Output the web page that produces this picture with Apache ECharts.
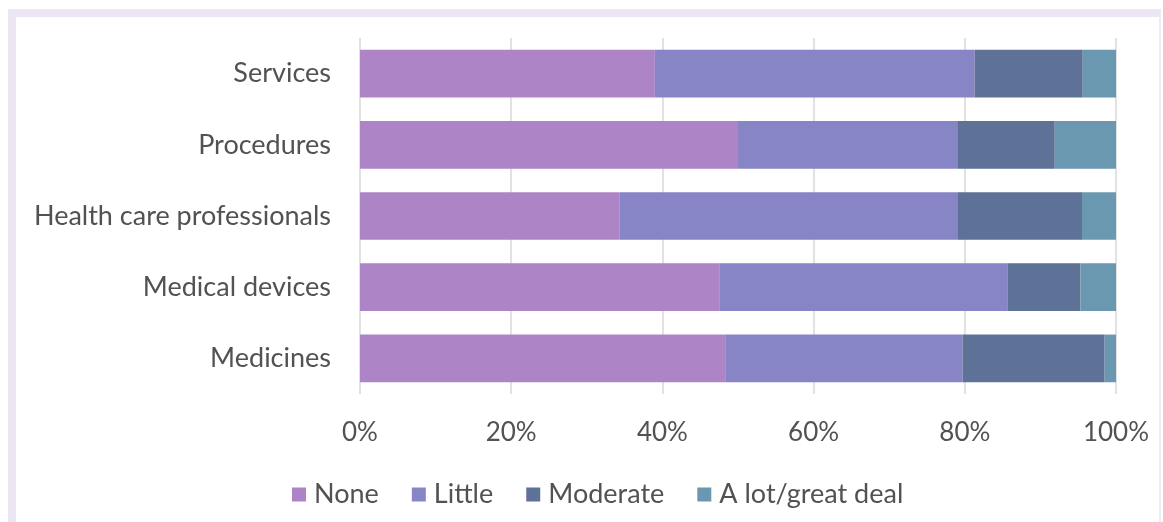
<!DOCTYPE html>
<html>
<head>
<meta charset="utf-8">
<script src="https://cdn.jsdelivr.net/npm/echarts@6/dist/echarts.min.js"></script>
<style>
  html, body { margin: 0; padding: 0; background: #ffffff; }
  #frame {
    position: absolute; left: 8px; top: 9px; width: 1143px; height: 520px;
    border-left: 8px solid #ece6f3; border-top: 8px solid #ece6f3; border-right: 2px solid #efeaf5;
  }
  #chart { position: absolute; left: 0; top: 0; width: 1163px; height: 522px; }
</style>
</head>
<body>
<div id="frame"></div>
<div id="chart"></div>
<script>
// Share of respondents by category and level of concern (percent)
const categories = ['Services', 'Procedures', 'Health care professionals', 'Medical devices', 'Medicines'];
const seriesNames = ['None', 'Little', 'Moderate', 'A lot/great deal'];
const noneValues = [39.0, 50.0, 34.3, 47.6, 48.4];
const littleValues = [42.3, 29.1, 44.8, 38.1, 31.3];
const moderateValues = [14.3, 12.8, 16.4, 9.6, 18.8];
const aLotValues = [4.4, 8.1, 4.5, 4.7, 1.5];
const xTicks = [0, 20, 40, 60, 80, 100];

const colors = ['#ad85c6', '#8885c6', '#5e7196', '#6a98b0'];
const valueSets = [noneValues, littleValues, moderateValues, aLotValues];
const fontFamily = 'Lato, "Open Sans", sans-serif';
const textColor = '#525252';

const chart = echarts.init(document.getElementById('chart'), null, { renderer: 'canvas' });
chart.setOption({
  animation: false,
  backgroundColor: 'transparent',
  color: colors,
  grid: { left: 360, right: 47, top: 38, bottom: 128, containLabel: false },
  legend: {
    data: seriesNames,
    left: 287,
    top: 476,
    itemWidth: 14,
    itemHeight: 14,
    itemGap: 33,
    icon: 'rect',
    textStyle: { color: textColor, fontSize: 27, fontFamily: fontFamily, padding: [0, 0, 0, 3] }
  },
  xAxis: {
    type: 'value',
    min: xTicks[0],
    max: xTicks[xTicks.length - 1],
    interval: 20,
    axisLine: { show: false },
    axisTick: { show: false },
    splitLine: { show: true, lineStyle: { color: '#d9d9d9', width: 1.5 } },
    axisLabel: {
      color: textColor, fontSize: 26, fontFamily: fontFamily, margin: 26,
      formatter: '{value}%'
    }
  },
  yAxis: {
    type: 'category',
    data: categories,
    inverse: true,
    axisLine: { show: false },
    axisTick: { show: false },
    axisLabel: { color: textColor, fontSize: 27, fontFamily: fontFamily, margin: 29 }
  },
  series: seriesNames.map((name, i) => ({
    name: name,
    type: 'bar',
    stack: 'total',
    barCategoryGap: '33%',
    data: valueSets[i],
    itemStyle: { color: colors[i] }
  }))
});
</script>
</body>
</html>
